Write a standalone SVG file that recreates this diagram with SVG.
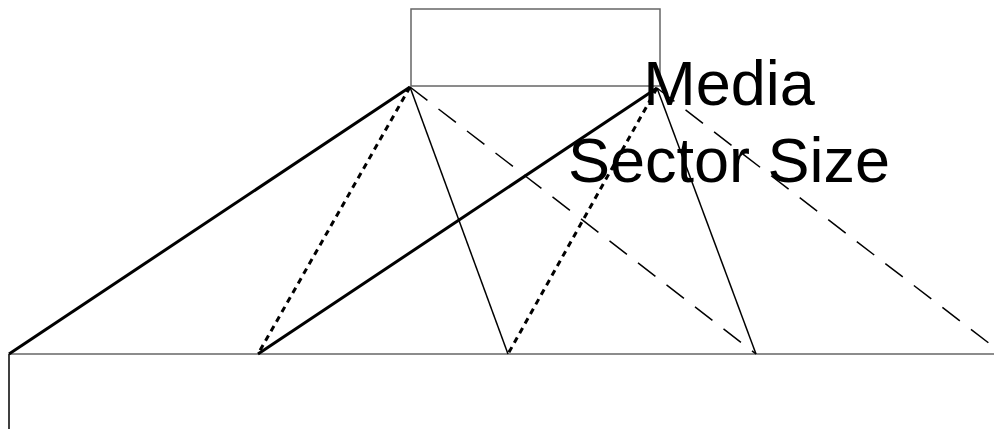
<svg xmlns="http://www.w3.org/2000/svg" width="994" height="429" viewBox="0 0 994 429">
<style>
.frame{fill:none;stroke:#666;stroke-width:1.5}
.thick{stroke:#000;stroke-width:3;fill:none}
.dot{stroke:#000;stroke-width:3;stroke-dasharray:6 5;fill:none}
.thin{stroke:#000;stroke-width:1.5;fill:none}
.dash{stroke:#000;stroke-width:1.5;stroke-dasharray:22 14;fill:none}
.lbl{font-family:"Liberation Sans",Arial,sans-serif;font-size:63px;fill:#000;text-anchor:middle}
</style>
<rect width="994" height="429" fill="#fff"/>
<g id="media-box"><rect class="frame" x="411" y="9" width="249" height="77"/></g>
<g id="baseline"><line class="frame" x1="9" y1="354" x2="994" y2="354"/><line class="thin" x1="9" y1="354" x2="9" y2="429"/></g>
<g id="connectors">
<line class="thick" x1="410" y1="87" x2="9" y2="354"/>
<line class="dot" x1="410" y1="87" x2="258" y2="354"/>
<line class="thin" x1="410" y1="87" x2="508" y2="354"/>
<line class="dash" x1="410" y1="87" x2="756" y2="354"/>
<line class="thick" x1="657" y1="88" x2="258" y2="354"/>
<line class="dot" x1="657" y1="88" x2="508" y2="354"/>
<line class="thin" x1="657" y1="88" x2="756" y2="354"/>
<line class="dash" x1="657" y1="88" x2="1003" y2="354"/>
</g>
<g id="label"><text class="lbl" x="729" y="105">Media</text><text class="lbl" x="729" y="182">Sector Size</text></g>
</svg>
